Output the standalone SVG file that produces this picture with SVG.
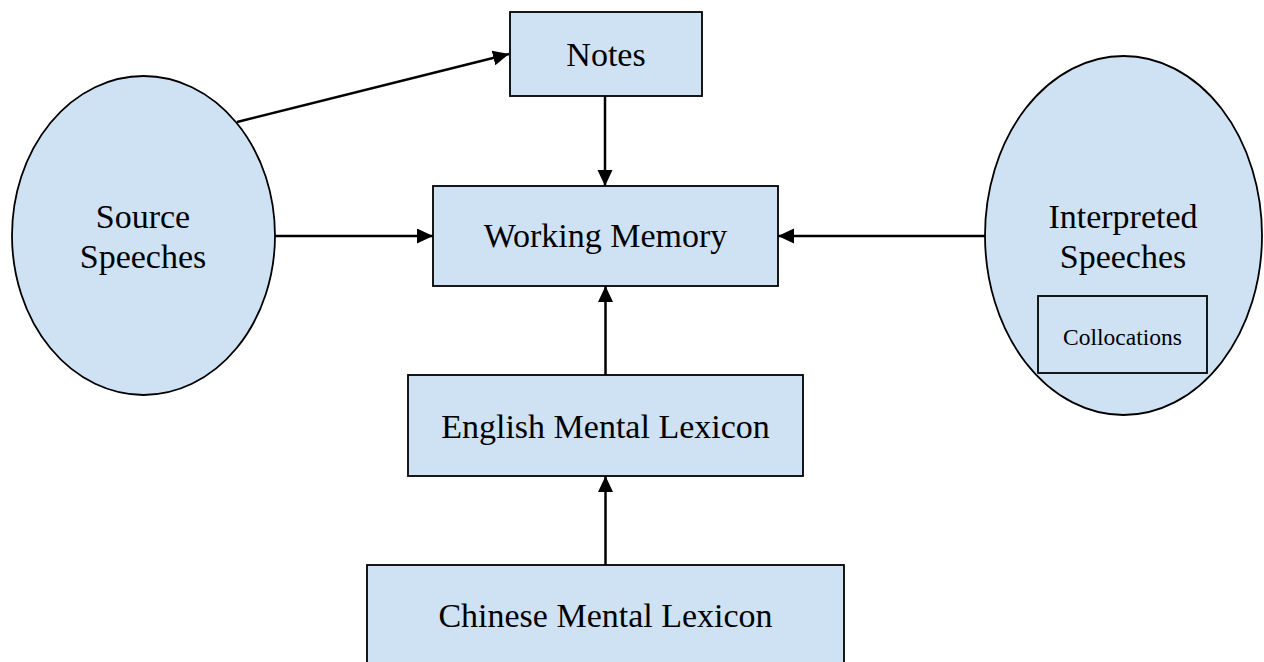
<svg xmlns="http://www.w3.org/2000/svg" width="1264" height="662" viewBox="0 0 1264 662">
<defs>
<style>
.node{fill:#cfe2f3;stroke:#000;stroke-width:1.8}
.lbl{font-family:"Liberation Serif","Times New Roman",serif;font-size:34px;fill:#000;text-anchor:middle}
.small{font-size:23.5px}
.conn{stroke:#000;stroke-width:2.5;fill:none;marker-end:url(#arr)}
</style>
<marker id="arr" markerUnits="userSpaceOnUse" markerWidth="17" markerHeight="16" refX="16" refY="7.5" orient="auto">
<path d="M0,0 L16,7.5 L0,15 z" fill="#000"/>
</marker>
</defs>
<rect width="1264" height="662" fill="#fff"/>
<g id="connectors">
<line class="conn" x1="237" y1="122" x2="509" y2="54"/>
<line class="conn" x1="605" y1="96" x2="605" y2="186"/>
<line class="conn" x1="275" y1="236" x2="433" y2="236"/>
<line class="conn" x1="985" y1="236" x2="778" y2="236"/>
<line class="conn" x1="605.5" y1="375" x2="605.5" y2="286"/>
<line class="conn" x1="605.5" y1="565" x2="605.5" y2="476"/>
</g>
<g id="source-speeches">
<ellipse class="node" cx="143.5" cy="235.5" rx="131.5" ry="159.5"/>
<text class="lbl" x="143" y="228">Source</text>
<text class="lbl" x="143" y="268">Speeches</text>
</g>
<g id="notes">
<rect class="node" x="510" y="12" width="192" height="84"/>
<text class="lbl" x="606" y="66">Notes</text>
</g>
<g id="working-memory">
<rect class="node" x="433" y="186" width="345" height="100"/>
<text class="lbl" x="605.5" y="247">Working Memory</text>
</g>
<g id="interpreted-speeches">
<ellipse class="node" cx="1123.5" cy="235.5" rx="138.5" ry="179.5"/>
<text class="lbl" x="1123" y="228">Interpreted</text>
<text class="lbl" x="1123" y="268">Speeches</text>
</g>
<g id="collocations">
<rect class="node" x="1038" y="296" width="169" height="77"/>
<text class="lbl small" x="1122.5" y="345">Collocations</text>
</g>
<g id="english-lexicon">
<rect class="node" x="408" y="375" width="395" height="101"/>
<text class="lbl" x="605.5" y="438">English Mental Lexicon</text>
</g>
<g id="chinese-lexicon">
<rect class="node" x="367" y="565" width="477" height="110"/>
<text class="lbl" x="605.5" y="627">Chinese Mental Lexicon</text>
</g>
</svg>
